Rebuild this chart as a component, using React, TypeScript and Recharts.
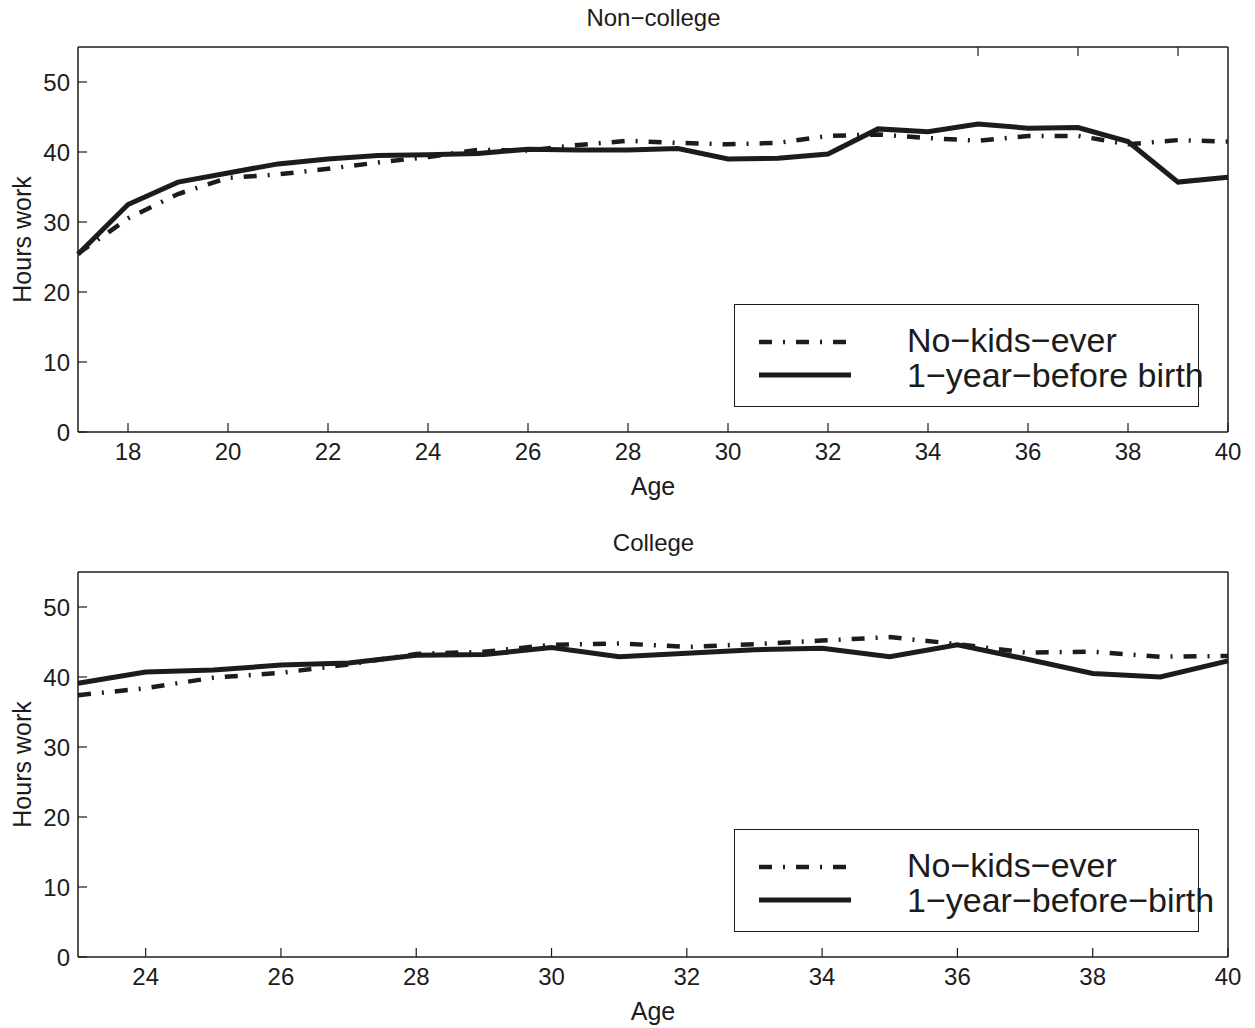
import { LineChart, Line, XAxis, YAxis } from "recharts";

// ages on the x axis
const agesNonCollege = [17, 18, 19, 20, 21, 22, 23, 24, 25, 26, 27, 28, 29, 30, 31, 32, 33, 34, 35, 36, 37, 38, 39, 40];
const agesCollege = [23, 24, 25, 26, 27, 28, 29, 30, 31, 32, 33, 34, 35, 36, 37, 38, 39, 40];

// hours worked
const nonCollegeNoKids = [25.5, 30.5, 34.0, 36.3, 36.8, 37.6, 38.5, 39.3, 40.3, 40.2, 41.0, 41.6, 41.3, 41.1, 41.3, 42.3, 42.5, 42.0, 41.6, 42.3, 42.3, 41.1, 41.7, 41.5];
const nonCollegeBirth = [25.4, 32.5, 35.7, 37.0, 38.3, 39.0, 39.5, 39.6, 39.8, 40.4, 40.3, 40.3, 40.5, 39.0, 39.1, 39.7, 43.3, 42.9, 44.0, 43.4, 43.5, 41.5, 35.7, 36.4];

const collegeNoKids = [37.4, 38.4, 39.9, 40.6, 41.8, 43.3, 43.6, 44.6, 44.8, 44.3, 44.7, 45.2, 45.7, 44.7, 43.5, 43.6, 42.9, 43.0];
const collegeBirth = [39.1, 40.7, 41.0, 41.7, 42.0, 43.1, 43.2, 44.2, 42.9, 43.4, 43.9, 44.1, 42.9, 44.6, 42.6, 40.5, 40.0, 42.3];

const yTicks = [0, 10, 20, 30, 40, 50];
const xTicksNonCollege = [18, 20, 22, 24, 26, 28, 30, 32, 34, 36, 38, 40];
const xTicksCollege = [24, 26, 28, 30, 32, 34, 36, 38, 40];

const FONT = "'Liberation Sans', Arial, Helvetica, sans-serif";
const INK = "#1c1c1c";
const DASHDOT = "13 11 2 11";

type PanelProps = {
  top: number;
  title: string;
  ages: number[];
  noKids: number[];
  birth: number[];
  xTicks: number[];
  birthLabel: string;
};

function Panel({ top, title, ages, noKids, birth, xTicks, birthLabel }: PanelProps) {
  const data = ages.map((age, i) => ({ age, noKids: noKids[i], birth: birth[i] }));
  const tickStyle = { fontSize: 24, fill: INK, fontFamily: FONT };
  const labelStyle = { fontSize: 25, fill: INK, fontFamily: FONT };
  const axisLine = { stroke: INK, strokeWidth: 1.5 };
  const tickLine = { stroke: INK, strokeWidth: 1.2 };
  const domainX: [number, number] = [ages[0], ages[ages.length - 1]];

  return (
    <div style={{ position: "absolute", left: 0, top, width: 1255, height: 514 }}>
      <div
        style={{
          position: "absolute",
          top: 4,
          left: 0,
          width: 1255,
          paddingLeft: 52,
          textAlign: "center",
          fontFamily: FONT,
          fontSize: 24,
          lineHeight: "28px",
          color: INK,
          boxSizing: "border-box",
        }}
      >
        {title}
      </div>
      <LineChart width={1255} height={514} data={data} margin={{ top: 46, right: 26, bottom: 18, left: 0 }}>
        <XAxis
          dataKey="age"
          type="number"
          domain={domainX}
          ticks={xTicks}
          height={64}
          axisLine={axisLine}
          tickLine={tickLine}
          tickSize={-9}
          tickMargin={20}
          tick={tickStyle}
          label={{ value: "Age", position: "insideBottom", offset: 1, style: labelStyle }}
        />
        <XAxis
          xAxisId="top"
          orientation="top"
          type="number"
          domain={domainX}
          ticks={xTicks}
          height={1}
          axisLine={axisLine}
          tickLine={tickLine}
          tickSize={-9}
          tickFormatter={() => ""}
        />
        <YAxis
          type="number"
          domain={[0, 55]}
          ticks={yTicks}
          width={78}
          axisLine={axisLine}
          tickLine={tickLine}
          tickSize={-9}
          tickMargin={17}
          tick={tickStyle}
          label={{
            value: "Hours work",
            angle: -90,
            position: "insideLeft",
            offset: 22,
            style: { ...labelStyle, textAnchor: "middle" },
          }}
        />
        <YAxis
          yAxisId="right"
          orientation="right"
          type="number"
          domain={[0, 55]}
          ticks={yTicks}
          width={1}
          axisLine={axisLine}
          tickLine={tickLine}
          tickSize={-9}
          tickFormatter={() => ""}
        />
        <Line
          dataKey="noKids"
          stroke={INK}
          strokeWidth={4.5}
          strokeDasharray={DASHDOT}
          dot={false}
          isAnimationActive={false}
        />
        <Line dataKey="birth" stroke={INK} strokeWidth={5} dot={false} isAnimationActive={false} />
      </LineChart>
      <div
        style={{
          position: "absolute",
          left: 734,
          top: 304,
          width: 465,
          height: 103,
          border: `1.5px solid ${INK}`,
          boxSizing: "border-box",
          background: "#fff",
          fontFamily: FONT,
          fontSize: 34,
          color: INK,
        }}
      >
        <svg width={100} height={100} style={{ position: "absolute", left: 22, top: 0 }}>
          <line x1={2} y1={37} x2={94} y2={37} stroke={INK} strokeWidth={4.5} strokeDasharray={DASHDOT} />
          <line x1={2} y1={70} x2={94} y2={70} stroke={INK} strokeWidth={5} />
        </svg>
        <div style={{ position: "absolute", left: 172, top: 18, lineHeight: "34px", whiteSpace: "nowrap" }}>No−kids−ever</div>
        <div style={{ position: "absolute", left: 172, top: 53, lineHeight: "34px", whiteSpace: "nowrap" }}>{birthLabel}</div>
      </div>
    </div>
  );
}

export default function App() {
  return (
    <div style={{ position: "absolute", left: 0, top: 0, width: 1255, height: 1028, background: "#fff" }}>
      <Panel
        top={0}
        title="Non−college"
        ages={agesNonCollege}
        noKids={nonCollegeNoKids}
        birth={nonCollegeBirth}
        xTicks={xTicksNonCollege}
        birthLabel="1−year−before birth"
      />
      <Panel
        top={525}
        title="College"
        ages={agesCollege}
        noKids={collegeNoKids}
        birth={collegeBirth}
        xTicks={xTicksCollege}
        birthLabel="1−year−before−birth"
      />
    </div>
  );
}
